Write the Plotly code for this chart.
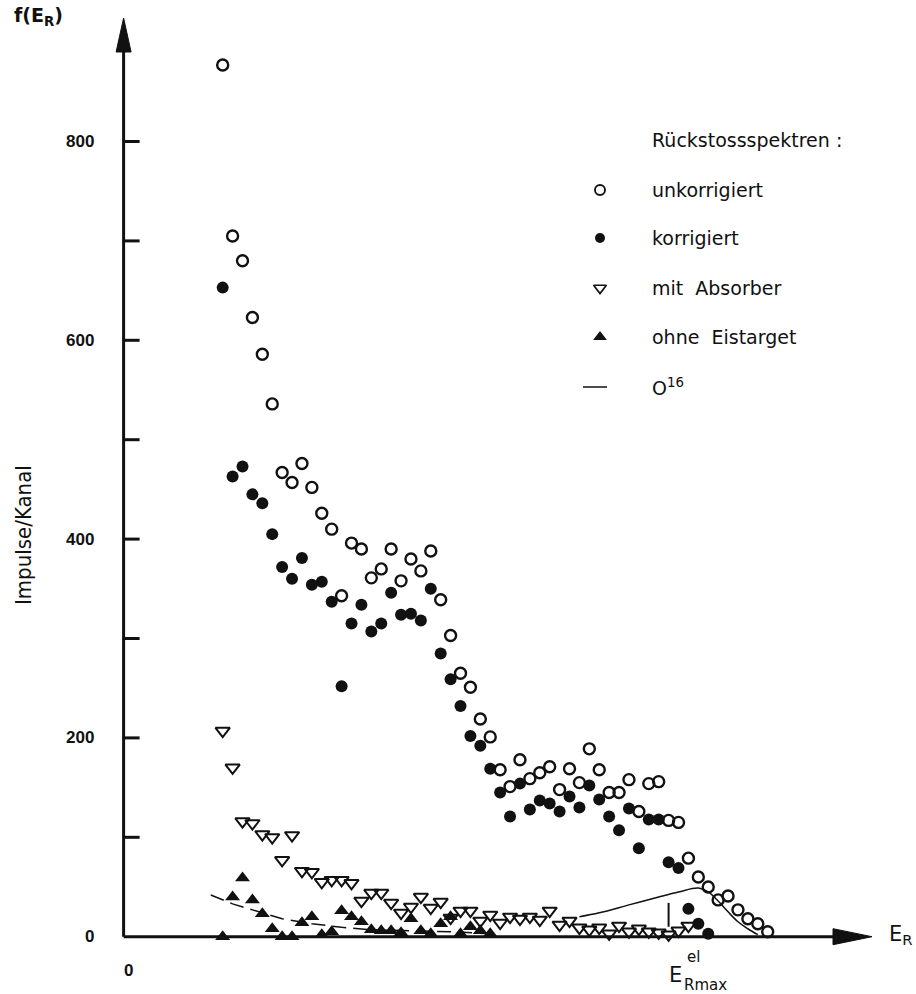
import plotly.graph_objects as go

# ---------------- data ----------------
ch_unk = list(range(10, 66))
unkorrigiert = [877, 705, 680, 623, 586, 536, 467, 457, 476, 452, 426, 410,
                343, 396, 390, 361, 370, 390, 358, 380, 368, 388, 339, 303,
                265, 251, 219, 201, 168, 151, 178, 159, 165, 171, 148, 169,
                155, 189, 168, 145, 145, 158, 126, 154, 156, 117, 115, 79,
                60, 50, 37, 41, 27, 18, 13, 5]

ch_kor = list(range(10, 60))
korrigiert = [653, 463, 473, 445, 436, 405, 372, 360, 381, 354, 357, 337,
              252, 315, 334, 307, 315, 346, 324, 325, 318, 350, 285, 259,
              232, 202, 192, 169, 145, 121, 154, 128, 137, 134, 126, 141,
              130, 152, 138, 121, 107, 129, 89, 118, 118, 75, 69, 28, 13, 3]

ch_abs = list(range(10, 58))
mit_absorber = [207, 170, 116, 114, 103, 100, 77, 102, 66, 65, 55, 57,
                57, 54, 36, 44, 44, 34, 24, 30, 40, 29, 35, 19,
                26, 26, 16, 22, 14, 20, 18, 20, 17, 26, 12, 16,
                9, 7, 9, 3, 11, 5, 8, 5, 4, 2, 6, 11]

ch_ohne = list(range(10, 38))
ohne_eistarget = [0, 40, 59, 37, 23, 8, 0, 0, 14, 20, 2, 5,
                  26, 20, 15, 7, 6, 6, 4, 18, 6, 3, 13, 20, 3, 10, 6, 3]

# dashed background curve
bg_x = [8.8, 11, 13, 16, 19, 22, 25, 29, 33, 37]
bg_y = [42, 33, 27, 18, 13, 9.5, 7, 6, 5, 3]

# O16 curve
o16_x = [46, 48, 51, 54, 56, 58, 59, 60, 61, 62, 63, 64]
o16_y = [20, 24, 32, 40, 45, 49, 45, 36, 25, 15, 8, 2]

E_RMAX = 55
E_RMAX_MARK = [10, 34]

y_ticks_major = [0, 200, 400, 600, 800]
y_ticks_all = [100, 200, 300, 400, 500, 600, 700, 800]

legend_title = "Rückstossspektren :"
legend_labels = ["unkorrigiert", "korrigiert", "mit\u00a0 Absorber",
                 "ohne\u00a0 Eistarget"]

# ---------------- layout geometry ----------------
W, H = 916, 994
X0_PX, X_PER = 123.6, 9.909     # pixel of x=0, pixels per channel
Y0_PX, Y_PER = 936.7, 0.994     # pixel of y=0, pixels per count


def dx(px):
    return (px - X0_PX) / X_PER


def dy(py):
    return (Y0_PX - py) / Y_PER


x_range = [dx(0), dx(W)]
y_range = [dy(H), dy(0)]

INK = "#111111"
fig = go.Figure()

# curves
fig.add_trace(go.Scatter(x=bg_x, y=bg_y, mode="lines",
                         line=dict(color=INK, width=1.5, dash="14px,7px"),
                         hoverinfo="skip"))
fig.add_trace(go.Scatter(x=o16_x, y=o16_y, mode="lines",
                         line=dict(color=INK, width=1.5, shape="spline"),
                         hoverinfo="skip"))

# data series
fig.add_trace(go.Scatter(x=ch_abs, y=mit_absorber, mode="markers",
                         marker=dict(symbol="triangle-down-open", size=12.5,
                                     color=INK, line=dict(width=2, color=INK))))
fig.add_trace(go.Scatter(x=ch_ohne, y=ohne_eistarget, mode="markers",
                         marker=dict(symbol="triangle-up", size=13, color=INK,
                                     line=dict(width=0))))
fig.add_trace(go.Scatter(x=ch_unk, y=unkorrigiert, mode="markers",
                         marker=dict(symbol="circle-open", size=11, color=INK,
                                     line=dict(width=2.4, color=INK))))
fig.add_trace(go.Scatter(x=ch_kor, y=korrigiert, mode="markers",
                         marker=dict(symbol="circle", size=12, color=INK,
                                     line=dict(width=0))))

# legend glyphs (hand placed)
LEG_X = 600
LEG_ROWS = [190, 238, 288, 337, 387]
leg_syms = [("circle-open", 10, 1.9), ("circle", 10, 0),
            ("triangle-down-open", 11, 1.7), ("triangle-up", 12, 0)]
for (sym, sz, lw), py in zip(leg_syms, LEG_ROWS):
    fig.add_trace(go.Scatter(x=[dx(LEG_X)], y=[dy(py)], mode="markers",
                             marker=dict(symbol=sym, size=sz, color=INK,
                                         line=dict(width=lw, color=INK)),
                             hoverinfo="skip"))
fig.add_trace(go.Scatter(x=[dx(583), dx(607)], y=[dy(387), dy(387)],
                         mode="lines", line=dict(color=INK, width=1.5),
                         hoverinfo="skip"))

shapes = []
AX_W = 3
# y axis
shapes.append(dict(type="line", xref="x", yref="y", x0=0, x1=0, y0=0,
                   y1=dy(50), line=dict(color=INK, width=AX_W)))
shapes.append(dict(type="path", xref="x", yref="y",
                   path=f"M {-7.5 / X_PER},{dy(52)} L {7.5 / X_PER},{dy(52)} "
                        f"L 0,{dy(18)} Z",
                   fillcolor=INK, line=dict(color=INK, width=1)))
# x axis
shapes.append(dict(type="line", xref="x", yref="y", x0=0, x1=dx(835), y0=0,
                   y1=0, line=dict(color=INK, width=AX_W)))
shapes.append(dict(type="path", xref="x", yref="y",
                   path=f"M {dx(833)},{8 / Y_PER} L {dx(833)},{-8 / Y_PER} "
                        f"L {dx(872)},0 Z",
                   fillcolor=INK, line=dict(color=INK, width=1)))
# y ticks
for v in y_ticks_all:
    shapes.append(dict(type="line", xref="x", yref="y", x0=0,
                       x1=16 / X_PER, y0=v, y1=v,
                       line=dict(color=INK, width=AX_W)))
# E_Rmax marker line
shapes.append(dict(type="line", xref="x", yref="y", x0=E_RMAX, x1=E_RMAX,
                   y0=E_RMAX_MARK[0], y1=E_RMAX_MARK[1],
                   line=dict(color=INK, width=2)))

annotations = []


def txt(px, py, s, size, family="DejaVu Sans", xanchor="left",
        yanchor="middle", weight="normal", angle=0):
    annotations.append(dict(x=px / W, y=1 - py / H, xref="paper",
                            yref="paper", text=s, showarrow=False,
                            xanchor=xanchor, yanchor=yanchor, textangle=angle,
                            font=dict(family=family, size=size, color=INK,
                                      weight=weight)))


# y tick labels
for v in y_ticks_major:
    annotations.append(dict(x=96 / W, y=v, xref="paper", yref="y",
                            text=str(v), showarrow=False, xanchor="right",
                            yanchor="middle",
                            font=dict(family="Liberation Sans", size=17,
                                      color=INK, weight="bold")))

txt(12, 17, "f(E<sub>R</sub>)", 19, "DejaVu Sans", weight="bold")
txt(23, 535, "Impulse/Kanal", 22, "DejaVu Sans Condensed", xanchor="center",
    angle=-90)
txt(128, 970, "0", 17, "Liberation Sans", xanchor="center", weight="bold")
# E_Rmax^el
txt(667, 975, "E", 21)
txt(685, 957, "el", 15)
txt(682, 985, "Rmax", 15)
# E_R at right
txt(887, 935, "E<sub>R</sub>", 21)

# legend texts
txt(650, 140, legend_title, 19)
for lab, py in zip(legend_labels, LEG_ROWS[:4]):
    txt(650, py, lab, 19)
txt(650, 387, "O<sup>16</sup>", 19)

fig.update_layout(
    width=W, height=H, showlegend=False,
    margin=dict(l=0, r=0, t=0, b=0, pad=0, autoexpand=False),
    paper_bgcolor="white", plot_bgcolor="white",
    xaxis=dict(range=x_range, showgrid=False, zeroline=False,
               showticklabels=False, ticks="", showline=False, fixedrange=True),
    yaxis=dict(range=y_range, showgrid=False, zeroline=False,
               showticklabels=False, ticks="", showline=False, fixedrange=True),
    shapes=shapes, annotations=annotations,
)

fig.write_html(
    "out.html",
    config={"displayModeBar": False},
    post_script="document.body.style.margin='0px';"
                "document.documentElement.style.overflow='hidden';",
)
